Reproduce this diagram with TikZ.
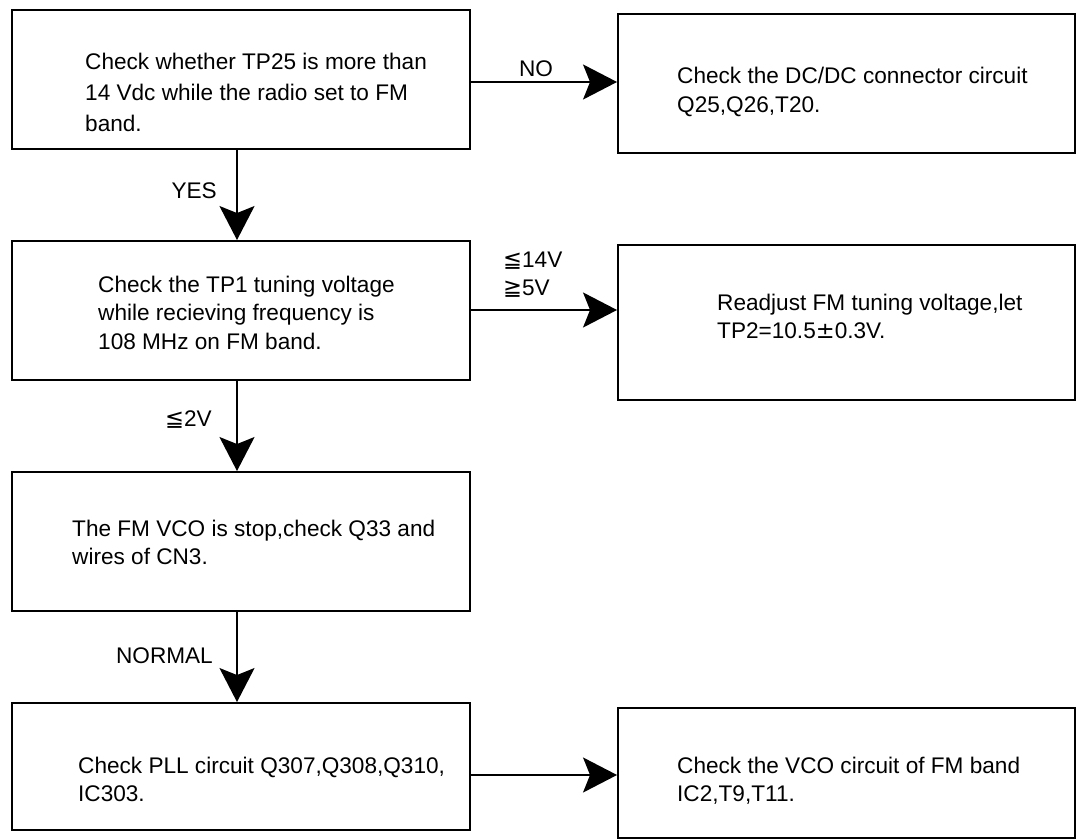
\documentclass[tikz,border=0pt]{standalone}
\usepackage{fontspec}
\setmainfont{Liberation Sans}
\newfontfamily\symfont{DejaVu Sans}
\usetikzlibrary{arrows.meta}
\newcommand\mylines[1]{\begin{tabular}[t]{@{}l@{}}#1\end{tabular}}
\begin{document}
\begin{tikzpicture}[x=1pt,y=-1pt,
  box/.style={draw,line width=1.9pt,inner sep=0pt,rectangle},
  txt/.style={inner sep=0pt,anchor=base west,font=\fontsize{22.6pt}{28.5pt}\selectfont},
  lbl/.style={inner sep=0pt,font=\fontsize{22.6pt}{28.5pt}\selectfont},
  conn/.style={line width=1.9pt},
  arr/.style={conn,-{Stealth[length=34pt,width=35pt,inset=7pt]}}]
\useasboundingbox (0,0) rectangle (1077,840);
% boxes
\node[box,minimum width=458pt,minimum height=139pt] (b1) at (241,79.5) {};
\node[box,minimum width=457pt,minimum height=139pt] (b2) at (846.5,83.5) {};
\node[box,minimum width=458pt,minimum height=139pt] (b3) at (241,310.5) {};
\node[box,minimum width=457pt,minimum height=155pt] (b4) at (846.5,322.5) {};
\node[box,minimum width=458pt,minimum height=139pt] (b5) at (241,541.5) {};
\node[box,minimum width=458pt,minimum height=127pt] (b6) at (241,766.5) {};
\node[box,minimum width=457pt,minimum height=130pt] (b7) at (846.5,773) {};
% texts
\node[txt,font=\fontsize{22.6pt}{31pt}\selectfont] (t1) at (85,70) {\mylines{Check whether TP25 is more than\\14 Vdc while the radio set to FM\\band.}};
\node[txt] (t2) at (677,84) {\mylines{Check the DC/DC connector circuit\\Q25,Q26,T20.}};
\node[txt] (t3) at (98,292) {\mylines{Check the TP1 tuning voltage\\while recieving frequency is\\108 MHz on FM band.}};
\node[txt] (t4) at (717,310) {\mylines{Readjust FM tuning voltage,let\\TP2=10.5{\symfont ±}0.3V.}};
\node[txt] (t5) at (72,536) {\mylines{The FM VCO is stop,check Q33 and\\wires of CN3.}};
\node[txt] (t6) at (78,773) {\mylines{Check PLL circuit Q307,Q308,Q310,\\IC303.}};
\node[txt] (t7) at (677,773) {\mylines{Check the VCO circuit of FM band\\IC2,T9,T11.}};
% connector helpers
\coordinate (cx) at (237,0);
\coordinate (y1) at (0,82);
\coordinate (y2) at (0,310);
\coordinate (y3) at (0,775);
% connectors
\draw[arr] (b1.east |- y1) -- (b2.west |- y1);
\draw[arr] (b1.south -| cx) -- (b3.north -| cx);
\draw[arr] (b3.east |- y2) -- (b4.west |- y2);
\draw[arr] (b3.south -| cx) -- (b5.north -| cx);
\draw[arr] (b5.south -| cx) -- (b6.north -| cx);
\draw[arr] (b6.east |- y3) -- (b7.west |- y3);
% labels
\node[lbl,anchor=base] (lno) at (536,77) {NO};
\node[lbl,anchor=base east] (lyes) at (217,198) {YES};
\node[lbl,anchor=base west] (l14) at (503,267) {{\symfont ≦}14V};
\node[lbl,anchor=base west] (l5) at (503,295) {{\symfont ≧}5V};
\node[lbl,anchor=base east] (l2) at (212,426) {{\symfont ≦}2V};
\node[lbl,anchor=base east] (lnorm) at (213,663) {NORMAL};
\end{tikzpicture}
\end{document}
